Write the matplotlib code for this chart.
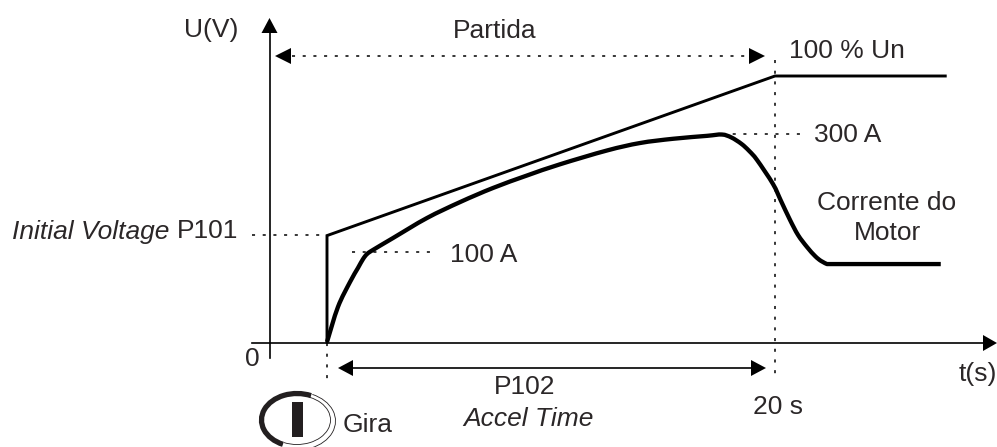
import matplotlib
matplotlib.use("Agg")
import matplotlib.pyplot as plt
from matplotlib.patches import Arc, PathPatch, Polygon, Rectangle
from matplotlib.path import Path

# voltage ramp, t in s, U in % of Un
volt_t = [0, 0, 20, 27.6]
volt_u = [0, 40, 100, 100]

# motor current
curr_t = [0, 0.49, 1.03, 1.38, 1.61, 1.79, 2.05, 2.95, 4.46, 5.94, 7.41, 8.93, 10.4,
          12.5, 13.97, 15.45, 16.96, 17.63, 18.05, 18.5, 18.85, 19.2, 19.91, 20.27, 20.67, 21.03,
          21.43, 21.79, 22.05, 22.32, 27.4]
curr_u = [0, 13.2, 22.6, 27.8, 31.2, 33.1, 34.6, 39.1, 46.6, 52.6, 57.9, 62.6, 66.8,
          72.0, 74.8, 76.4, 77.5, 78.0, 76.9, 74.5, 71.8, 68.4, 59.4, 53.0, 45.9, 40.2,
          35.7, 32.3, 30.5, 29.3, 29.3]

TEXT = "#2b2728"
FS = 19

# pixel layout of the original drawing
X0, Y0 = 327, 342
PX_S, PX_U = 22.4, 2.66

plt.rcParams["font.family"] = ["Liberation Sans", "DejaVu Sans"]
fig = plt.figure(figsize=(9.97, 4.47), dpi=100)

ax = fig.add_axes([0, 0, 1, 1])
ax.set_xlim(-X0 / PX_S, (997 - X0) / PX_S)
ax.set_ylim((Y0 - 447) / PX_U, Y0 / PX_U)
ax.axis("off")

# overlay in pixels for axes, guides and labels
ov = fig.add_axes([0, 0, 1, 1], zorder=2)
ov.set_xlim(0, 997)
ov.set_ylim(447, 0)
ov.axis("off")
ov.patch.set_alpha(0)


def smooth_path(xs, ys):
    # bezier through the read points, so the curve has no kinks
    verts = [(xs[0], ys[0])]
    codes = [Path.MOVETO]
    n = len(xs)
    for i in range(n - 1):
        a, d = max(i - 1, 0), min(i + 2, n - 1)
        # keep the last flat stretch straight
        if i == n - 2:
            c1 = (xs[i], ys[i])
        else:
            c1 = (xs[i] + (xs[i + 1] - xs[a]) / 6, ys[i] + (ys[i + 1] - ys[a]) / 6)
        if i >= n - 3:
            c2 = (xs[i + 1], ys[i + 1])
        else:
            c2 = (xs[i + 1] - (xs[d] - xs[i]) / 6, ys[i + 1] - (ys[d] - ys[i]) / 6)
        verts += [c1, c2, (xs[i + 1], ys[i + 1])]
        codes += [Path.CURVE4] * 3
    return Path(verts, codes)


ax.plot(volt_t, volt_u, color="black", lw=2.1, solid_joinstyle="miter")
ax.add_patch(PathPatch(smooth_path(curr_t, curr_u), fc="none", ec="black", lw=3.1,
                       joinstyle="round", capstyle="butt"))


def dotted(xs, ys):
    ov.plot(xs, ys, color="black", lw=1.1, linestyle=(0, (2, 5)))


def head(tip, base1, base2):
    ov.add_patch(Polygon([tip, base1, base2], closed=True, fc="black", ec="none"))


# axes
ov.plot([269.5, 269.5], [30, 358], color="black", lw=1.2)
ov.plot([252, 985], [343, 343], color="black", lw=1.2)
head((269.5, 18), (261.5, 33), (277.5, 33))
head((997, 343), (983, 335), (983, 351))

# guides
dotted([775, 775], [60, 380])
dotted([327, 327], [343, 380])
dotted([252, 327], [235, 235])
dotted([352, 436], [252, 252])
dotted([722, 804], [134, 134])
dotted([292, 752], [56, 56])

# Partida arrow
head((275, 56), (291, 48), (291, 64))
head((765, 56), (749, 48), (749, 64))

# P102 arrow
ov.plot([350, 754], [368, 368], color="black", lw=1.2)
head((338, 368), (353, 360), (353, 376))
head((766, 368), (751, 360), (751, 376))

# start symbol
ov.add_patch(Arc((297, 420), 71, 53, theta1=120, theta2=300, color="#231f20", lw=3.8))
ov.add_patch(Arc((297, 421), 77, 58, theta1=300, theta2=120, color="#231f20", lw=0.6))
ov.add_patch(Arc((297, 420), 67, 49, theta1=300, theta2=120, color="#231f20", lw=0.6))
ov.add_patch(Rectangle((292, 402), 11, 35, fc="#231f20", ec="none"))


def label(x, y, s, ha="center", style="normal"):
    ov.text(x, y + 1.5, s, ha=ha, va="center", fontsize=FS, color=TEXT, style=style)


label(211, 28, "U(V)")
label(495, 29, "Partida")
label(847, 50, "100 % Un")
label(848, 133, "300 A")
label(887, 201, "Corrente do")
label(887, 232, "Motor")
label(484, 253, "100 A")
label(238, 230, "P101", ha="right")
label(169, 230, "Initial Voltage", ha="right", style="italic")
label(252, 358, "0")
label(997, 372, "t(s)", ha="right")
label(525, 386, "P102")
label(528, 418, "Accel Time", style="italic")
label(778, 406, "20 s")
label(368, 424, "Gira")

fig.savefig("out.png", dpi=100)
